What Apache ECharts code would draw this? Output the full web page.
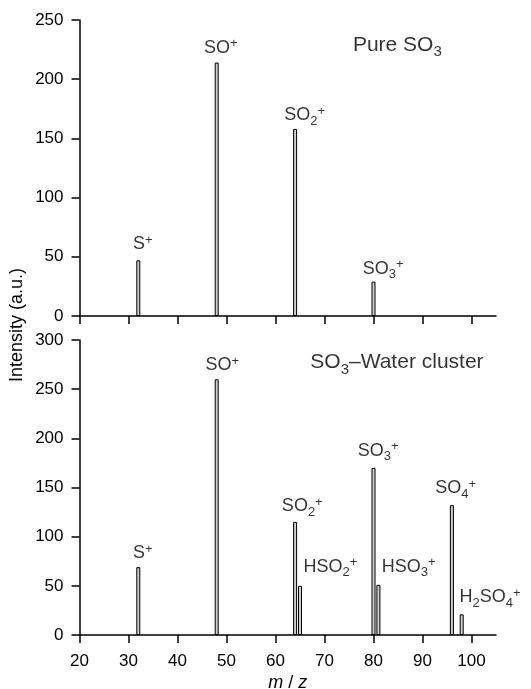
<!DOCTYPE html>
<html>
<head>
<meta charset="utf-8">
<script src="https://cdn.jsdelivr.net/npm/echarts@6/dist/echarts.min.js"></script>
<style>
  html, body { margin: 0; padding: 0; background: #fff; }
  #chart { width: 531px; height: 689px; }
</style>
</head>
<body>
<div id="chart"></div>
<script>
// m/z tick positions (shared by both panels)
const xTicks = [20, 30, 40, 50, 60, 70, 80, 90, 100]

// top panel: pure SO3
const topPeakX = [32, 48, 64, 80]
const topPeakY = [47, 214, 158, 29]
const topLabelX = [30.9, 45.4, 61.8, 77.8]
const topLabelY = [55, 221, 164, 34.4]
const topLabelText = ['S^+', 'SO^+', 'SO_2^+', 'SO_3^+']
const topTitle = ['Pure SO_3', 75.8, 222.4]

// bottom panel: SO3-water cluster
const botPeakX = [32, 48, 64, 65, 80, 81, 96, 98]
const botPeakY = [69, 260, 115, 50, 170, 51, 132, 21]
const botLabelX = [30.9, 45.7, 61.3, 65.7, 76.8, 81.7, 92.6, 97.55]
const botLabelY = [76.3, 267.9, 124.4, 62.8, 180.8, 62.8, 142.4, 31.5]
const botLabelText = ['S^+', 'SO^+', 'SO_2^+', 'HSO_2^+', 'SO_3^+', 'HSO_3^+', 'SO_4^+', 'H_2SO_4^+']
const botTitle = ['SO_3–Water cluster', 67.1, 269.6]

const FONT = '"Liberation Sans", Arial, Helvetica, sans-serif'

// 'SO_2^+' -> rich text tokens
function chem(s, p) {
  let out = ''
  let buf = ''
  for (let i = 0; i < s.length; i++) {
    const c = s[i]
    if ((c === '_' || c === '^') && i + 1 < s.length) {
      if (buf) { out += '{' + p + 'n|' + buf + '}'; buf = '' }
      out += '{' + p + (c === '_' ? 'sub' : 'sup') + '|' + s[i + 1] + '}'
      i++
    } else {
      buf += c
    }
  }
  if (buf) out += '{' + p + 'n|' + buf + '}'
  return out
}

const rich = {
  n: { fontSize: 18, lineHeight: 25, verticalAlign: 'middle', fontFamily: FONT, color: '#000' },
  sub: { fontSize: 13, lineHeight: 13, verticalAlign: 'bottom', fontFamily: FONT, color: '#000' },
  sup: { fontSize: 13, lineHeight: 13, verticalAlign: 'top', padding: [2, 0, 0, 0], fontFamily: FONT, color: '#000' },
  tn: { fontSize: 21, lineHeight: 29, verticalAlign: 'middle', fontFamily: FONT, color: '#000' },
  tsub: { fontSize: 15, lineHeight: 15, verticalAlign: 'bottom', fontFamily: FONT, color: '#000' },
  tsup: { fontSize: 15, lineHeight: 15, verticalAlign: 'top', fontFamily: FONT, color: '#000' },
}

function labelSeries(idx, xs, ys, texts, title) {
  const data = xs.map((x, i) => ({
    value: [x, ys[i]],
    label: { formatter: chem(texts[i], ''), offset: [0, 6] },
  }))
  data.push({
    value: [title[1], title[2]],
    label: { formatter: chem(title[0], 't'), offset: [0, 7] },
  })
  return {
    type: 'scatter',
    xAxisIndex: idx,
    yAxisIndex: idx,
    symbolSize: 0,
    silent: true,
    data,
    label: {
      show: true,
      position: [0, 0],
      align: 'left',
      verticalAlign: 'bottom',
      color: '#000',
      rich,
    },
  }
}

function barSeries(idx, xs, ys) {
  return {
    type: 'bar',
    xAxisIndex: idx,
    yAxisIndex: idx,
    barWidth: 4,
    silent: true,
    data: xs.map((x, i) => [x, ys[i]]),
    itemStyle: { color: '#cfcfcf', borderColor: '#000', borderWidth: 1 },
  }
}

const axisLine = { show: true, lineStyle: { color: '#000', width: 1.5 } }
const tickStyle = { lineStyle: { color: '#000', width: 1.5 } }

function xAxis(idx, showLabels) {
  return {
    type: 'value',
    gridIndex: idx,
    min: 20,
    max: 105,
    axisLine,
    axisTick: { show: true, inside: false, length: 8, customValues: xTicks, ...tickStyle },
    axisLabel: {
      show: showLabels,
      customValues: xTicks,
      color: '#000',
      fontSize: 17,
      fontFamily: FONT,
      margin: 18,
    },
    splitLine: { show: false },
    name: showLabels ? '{i|m} / {i|z}' : '',
    nameLocation: 'middle',
    nameGap: 39,
    nameTextStyle: {
      rich: {
        i: { fontStyle: 'italic', fontSize: 18, fontFamily: FONT, color: '#000' },
      },
      fontSize: 18,
      fontFamily: FONT,
      color: '#000',
    },
  }
}

function yAxis(idx, max) {
  return {
    type: 'value',
    gridIndex: idx,
    min: 0,
    max,
    interval: 50,
    axisLine,
    axisTick: { show: true, inside: false, length: 8, ...tickStyle },
    axisLabel: { color: '#000', fontSize: 17, fontFamily: FONT, margin: 16 },
    splitLine: { show: false },
  }
}

const chart = echarts.init(document.getElementById('chart'))
chart.setOption({
  animation: false,
  backgroundColor: '#fff',
  grid: [
    { left: 79.5, right: 35, top: 20, height: 296, outerBoundsMode: 'none' },
    { left: 79.5, right: 35, top: 340, height: 295, outerBoundsMode: 'none' },
  ],
  xAxis: [xAxis(0, false), xAxis(1, true)],
  yAxis: [yAxis(0, 250), yAxis(1, 300)],
  graphic: [{
    type: 'text',
    x: 17,
    y: 325,
    rotation: Math.PI / 2,
    style: {
      text: 'Intensity (a.u.)',
      font: '18px ' + FONT,
      fill: '#000',
      align: 'center',
      verticalAlign: 'middle',
    },
  }],
  series: [
    barSeries(0, topPeakX, topPeakY),
    barSeries(1, botPeakX, botPeakY),
    labelSeries(0, topLabelX, topLabelY, topLabelText, topTitle),
    labelSeries(1, botLabelX, botLabelY, botLabelText, botTitle),
  ],
})
</script>
</body>
</html>
